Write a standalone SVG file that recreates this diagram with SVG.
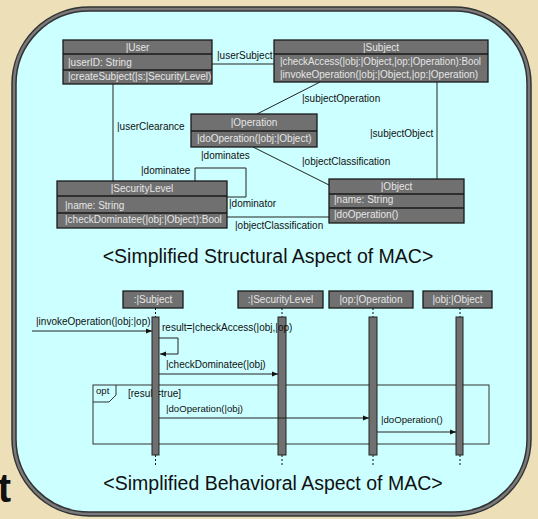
<svg xmlns="http://www.w3.org/2000/svg" width="538" height="519" viewBox="0 0 538 519">
<defs>
<marker id="ah" markerWidth="6" markerHeight="6" refX="6" refY="3" orient="auto" markerUnits="userSpaceOnUse">
<path d="M0,0.5 L6,3 L0,5.5 z" fill="#111"/>
</marker>
<style>
.box{fill:#707070;stroke:#1a1a1a;stroke-width:1.3}
.div{stroke:#1a1a1a;stroke-width:1.3}
.bt{font-family:"Liberation Sans",Arial,sans-serif;font-size:10px;fill:#e6e6e6}
.lbl{font-family:"Liberation Sans",Arial,sans-serif;font-size:10px;fill:#111}
.sm{font-family:"Liberation Sans",Arial,sans-serif;font-size:9.6px;fill:#111}
.ttl{font-family:"Liberation Sans",Arial,sans-serif;font-size:19.5px;fill:#111;text-anchor:middle}
.ln{stroke:#222;stroke-width:1;fill:none}
.dash{stroke:#111;stroke-width:1;stroke-dasharray:2,2;fill:none}
.bar{fill:#707070;stroke:#222;stroke-width:1}
.mid{text-anchor:middle}
</style>
</defs>
<rect x="0" y="0" width="538" height="519" fill="#ede0b8"/>
<text x="11" y="502" text-anchor="end" font-family="Liberation Sans,Arial,sans-serif" font-weight="bold" font-size="40" fill="#111">t</text>
<rect x="14" y="9" width="515" height="505" rx="75" ry="75" fill="#ccffff" stroke="#333" stroke-width="5.5"/>
<rect x="14" y="9" width="515" height="505" rx="75" ry="75" fill="none" stroke="#7a7a7a" stroke-width="2.5"/>

<g id="connectors">
<line class="ln" x1="212" y1="64" x2="274" y2="64"/>
<line class="ln" x1="113" y1="84" x2="113" y2="181"/>
<line class="ln" x1="320" y1="82" x2="257" y2="114"/>
<line class="ln" x1="253" y1="147" x2="329" y2="185"/>
<line class="ln" x1="437" y1="82" x2="437" y2="179"/>
<polyline class="ln" points="195,181 195,168 246,168 246,197 227,197"/>
<line class="ln" x1="227" y1="217" x2="329" y2="217"/>
<text class="lbl" x="217" y="59">|userSubject</text>
<text class="lbl" x="117" y="130">|userClearance</text>
<text class="lbl" x="302" y="102">|subjectOperation</text>
<text class="lbl" x="370" y="137">|subjectObject</text>
<text class="lbl" x="302" y="165">|objectClassification</text>
<text class="lbl" x="201" y="159">|dominates</text>
<text class="lbl" x="141" y="174">|dominatee</text>
<text class="lbl" x="229" y="207">|dominator</text>
<text class="lbl" x="235" y="229">|objectClassification</text>
</g>

<g id="user">
<rect class="box" x="63" y="40" width="149" height="44"/>
<line class="div" x1="63" y1="54" x2="212" y2="54"/>
<line class="div" x1="63" y1="70" x2="212" y2="70"/>
<text class="bt mid" x="137.5" y="51">|User</text>
<text class="bt" x="68" y="66">|userID: String</text>
<text class="bt" x="68" y="80">|createSubject(|s:|SecurityLevel)</text>
</g>

<g id="subject">
<rect class="box" x="274" y="40" width="214" height="42"/>
<line class="div" x1="274" y1="54" x2="488" y2="54"/>
<text class="bt mid" x="381" y="51">|Subject</text>
<text class="bt" x="280" y="65" textLength="201" lengthAdjust="spacingAndGlyphs">|checkAccess(|obj:|Object,|op:|Operation):Bool</text>
<text class="bt" x="280" y="78">|invokeOperation(|obj:|Object,|op:|Operation)</text>
</g>

<g id="operation">
<rect class="box" x="191" y="114" width="126" height="33"/>
<line class="div" x1="191" y1="131" x2="317" y2="131"/>
<text class="bt mid" x="254" y="126">|Operation</text>
<text class="bt" x="197" y="142">|doOperation(|obj:|Object)</text>
</g>

<g id="object">
<rect class="box" x="329" y="179" width="135" height="44"/>
<line class="div" x1="329" y1="194" x2="464" y2="194"/>
<line class="div" x1="329" y1="208" x2="464" y2="208"/>
<text class="bt mid" x="396.5" y="190">|Object</text>
<text class="bt" x="334" y="203">|name: String</text>
<text class="bt" x="334" y="218">|doOperation()</text>
</g>

<g id="securityLevel">
<rect class="box" x="57" y="181" width="170" height="47"/>
<line class="div" x1="57" y1="196" x2="227" y2="196"/>
<line class="div" x1="57" y1="213" x2="227" y2="213"/>
<text class="bt mid" x="142" y="191.5">|SecurityLevel</text>
<text class="bt" x="65" y="209">|name: String</text>
<text class="bt" x="65" y="223">|checkDominatee(|obj:|Object):Bool</text>
</g>

<text class="ttl" x="268" y="263">&lt;Simplified Structural Aspect of MAC&gt;</text>

<g id="ll-subject">
<rect class="box" x="123" y="291" width="60" height="17"/>
<text class="bt mid" x="153" y="303">:|Subject</text>
<line class="dash" x1="155.5" y1="308" x2="155.5" y2="317"/>
<line class="dash" x1="155.5" y1="455" x2="155.5" y2="466"/>
</g>
<g id="ll-securityLevel">
<rect class="box" x="238" y="291" width="85" height="17"/>
<text class="bt mid" x="280.5" y="303">:|SecurityLevel</text>
<line class="dash" x1="282" y1="308" x2="282" y2="317"/>
<line class="dash" x1="282" y1="455" x2="282" y2="466"/>
</g>
<g id="ll-operation">
<rect class="box" x="329" y="291" width="84" height="17"/>
<text class="bt mid" x="371" y="303">|op:|Operation</text>
<line class="dash" x1="373" y1="308" x2="373" y2="317"/>
<line class="dash" x1="373" y1="455" x2="373" y2="466"/>
</g>
<g id="ll-object">
<rect class="box" x="423" y="291" width="69" height="17"/>
<text class="bt mid" x="457.5" y="303">|obj:|Object</text>
<line class="dash" x1="460" y1="308" x2="460" y2="317"/>
<line class="dash" x1="460" y1="455" x2="460" y2="466"/>
</g>

<g id="opt-frame">
<rect x="93" y="385" width="396" height="59" fill="none" stroke="#333" stroke-width="1"/>
<path d="M93,402 L109,402 L116,395 L116,385" fill="none" stroke="#333" stroke-width="1"/>
<text class="sm" x="96" y="394">opt</text>
<text class="lbl" x="128" y="397">[result=true]</text>
</g>

<g id="activations">
<rect class="bar" x="152" y="317" width="7" height="138"/>
<rect class="bar" x="278" y="317" width="8" height="138"/>
<rect class="bar" x="369" y="317" width="8" height="138"/>
<rect class="bar" x="456" y="317" width="7" height="138"/>
</g>

<g id="messages">
<line class="ln" x1="32" y1="331" x2="152" y2="331" marker-end="url(#ah)"/>
<text class="lbl" x="36" y="325">|invokeOperation(|obj:|op)</text>
<polyline class="ln" points="159,338 178,338 178,354 160,354" marker-end="url(#ah)"/>
<text class="lbl" x="162" y="331">result=|checkAccess(|obj,|op)</text>
<line class="ln" x1="159" y1="374" x2="278" y2="374" marker-end="url(#ah)"/>
<text class="lbl" x="166" y="368">|checkDominatee(|obj)</text>
<line class="ln" x1="159" y1="418" x2="369" y2="418" marker-end="url(#ah)"/>
<text class="sm" x="166" y="412">|doOperation(|obj)</text>
<line class="ln" x1="377" y1="432" x2="456" y2="432" marker-end="url(#ah)"/>
<text class="sm" x="381" y="423">|doOperation()</text>
</g>

<text class="ttl" x="273" y="490">&lt;Simplified Behavioral Aspect of MAC&gt;</text>
</svg>
